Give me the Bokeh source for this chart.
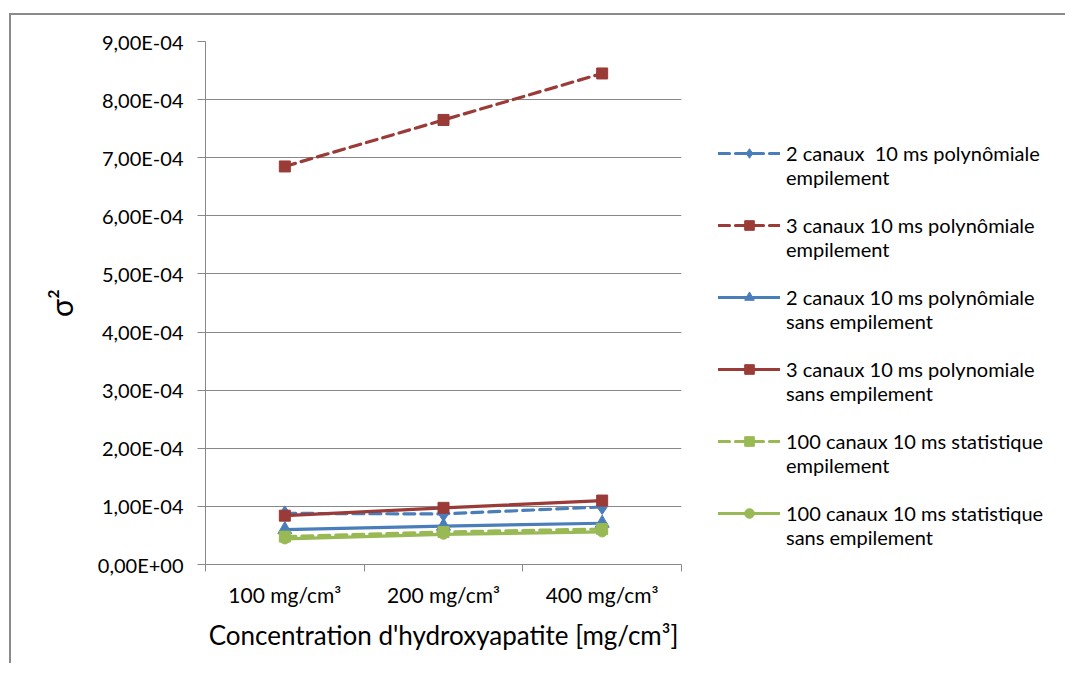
from bokeh.plotting import figure
from bokeh.layouts import row
from bokeh.models import (Legend, LegendItem, FixedTicker, CustomJSTickFormatter, Range1d)
from bokeh.embed import file_html
from bokeh.resources import INLINE

categories = ["100 mg/cm³", "200 mg/cm³", "400 mg/cm³"]
s2_emp = [0.88e-4, 0.87e-4, 0.99e-4]
s3_emp = [6.85e-4, 7.65e-4, 8.45e-4]
s2_sans = [0.60e-4, 0.66e-4, 0.71e-4]
s3_sans = [0.84e-4, 0.975e-4, 1.10e-4]
s100_emp = [0.48e-4, 0.56e-4, 0.61e-4]
s100_sans = [0.44e-4, 0.52e-4, 0.56e-4]
y_ticks = [0, 1e-4, 2e-4, 3e-4, 4e-4, 5e-4, 6e-4, 7e-4, 8e-4, 9e-4]

labels = [
    ("2 canaux  10 ms polynômiale", "empilement"),
    ("3 canaux 10 ms polynômiale", "empilement"),
    ("2 canaux 10 ms polynômiale", "sans empilement"),
    ("3 canaux 10 ms polynomiale", "sans empilement"),
    ("100 canaux 10 ms statistique", "empilement"),
    ("100 canaux 10 ms statistique", "sans empilement"),
]

BLUE = "#4A7EBB"
RED = "#9A3B38"
GREEN = "#98B954"
GRID = "#888888"
FONT = "Lato"

xs = [i + 0.5 for i in range(len(categories))]

H = 648
p = figure(width=700, height=H, output_backend="svg", toolbar_location=None,
           x_range=Range1d(0, len(categories)), y_range=Range1d(0, 9e-4),
           min_border_left=194, min_border_top=26, min_border_right=30,
           min_border_bottom=99)
p.outline_line_color = None

# axes
p.xaxis.ticker = FixedTicker(ticks=xs, minor_ticks=list(range(len(categories) + 1)))
p.xaxis.major_label_overrides = {x: c for x, c in zip(xs, categories)}
p.xaxis.major_tick_line_color = None
p.xaxis.minor_tick_out = 7
p.xaxis.minor_tick_in = 0
p.xaxis.minor_tick_line_color = GRID
p.xaxis.axis_line_color = GRID
p.xaxis.major_label_text_font = FONT
p.xaxis.major_label_text_font_size = "21px"
p.xaxis.major_label_text_color = "#000000"
p.xaxis.major_label_standoff = 10
p.xaxis.axis_label = "Concentration d'hydroxyapatite [mg/cm³]"
p.xaxis.axis_label_text_font = FONT
p.xaxis.axis_label_text_font_size = "26px"
p.xaxis.axis_label_text_font_style = "normal"
p.xaxis.axis_label_text_color = "#000000"
p.xaxis.axis_label_standoff = 9

p.yaxis.ticker = FixedTicker(ticks=y_ticks, minor_ticks=[])
p.yaxis.formatter = CustomJSTickFormatter(code="""
const s = tick.toExponential(2).replace('.', ',');
const parts = s.split('e');
const n = parseInt(parts[1]);
return parts[0] + 'E' + (n < 0 ? '-' : '+') + String(Math.abs(n)).padStart(2, '0');
""")
p.yaxis.major_tick_out = 8
p.yaxis.major_tick_in = 0
p.yaxis.major_tick_line_color = GRID
p.yaxis.axis_line_color = GRID
p.yaxis.major_label_text_font = FONT
p.yaxis.major_label_text_font_size = "20px"
p.yaxis.major_label_text_color = "#000000"
p.yaxis.major_label_standoff = 14
p.yaxis.axis_label = "σ²"
p.yaxis.axis_label_text_font = FONT
p.yaxis.axis_label_text_font_size = "30px"
p.yaxis.axis_label_text_font_style = "normal"
p.yaxis.axis_label_text_color = "#000000"
p.yaxis.axis_label_standoff = 16

p.xgrid.grid_line_color = None
p.ygrid.grid_line_color = GRID
p.ygrid.grid_line_width = 1

DASH = "11 6"
series = [
    (s2_emp, BLUE, DASH, "diamond", 15),
    (s3_emp, RED, DASH, "square", 11),
    (s2_sans, BLUE, "solid", "triangle", 14),
    (s3_sans, RED, "solid", "square", 11),
    (s100_emp, GREEN, DASH, "square", 11),
    (s100_sans, GREEN, "solid", "circle", 10),
]

for vals, col, dash, marker, size in series:
    p.line(xs, vals, line_color=col, line_width=3.2, line_dash=dash, line_cap="round")
    p.scatter(xs, vals, marker=marker, size=size, fill_color=col, line_color=col)

# legend panel (separate figure so the legend is not clipped by the plot frame);
# its proxy renderers hold the same series but lie outside its visible range
pl = figure(width=354, height=H, output_backend="svg", toolbar_location=None,
            x_range=Range1d(100, 101), y_range=Range1d(100, 101),
            min_border_left=0, min_border_right=0, min_border_top=0, min_border_bottom=0)
pl.axis.visible = False
pl.grid.visible = False
pl.outline_line_color = None

items = []
for (vals, col, dash, marker, size), (l1, l2) in zip(series, labels):
    ln = pl.line(xs, vals, line_color=col, line_width=3.2, line_dash=dash, line_cap="round")
    sc = pl.scatter(xs, vals, marker=marker, size=size, fill_color=col, line_color=col)
    # leading blank line keeps the legend glyph level with the first text line
    items.append(LegendItem(label="\n" + l1 + "\n" + l2, renderers=[ln, sc]))

legend = Legend(items=items, location=(7, 15))
legend.border_line_color = None
legend.background_fill_alpha = 0
legend.padding = 0
legend.margin = 0
legend.spacing = 0
legend.glyph_width = 62
legend.glyph_height = 24
legend.label_standoff = 6
legend.label_text_font = FONT
legend.label_text_font_size = "20px"
legend.label_text_color = "#000000"
pl.add_layout(legend, "center")

layout = row(p, pl, spacing=0)
layout.margin = (13, 0, 0, 9)
layout.styles = {"border-top": "2px solid #8a8a8a", "border-left": "2px solid #8a8a8a"}

open("out.html", "w").write(file_html(layout, INLINE))
